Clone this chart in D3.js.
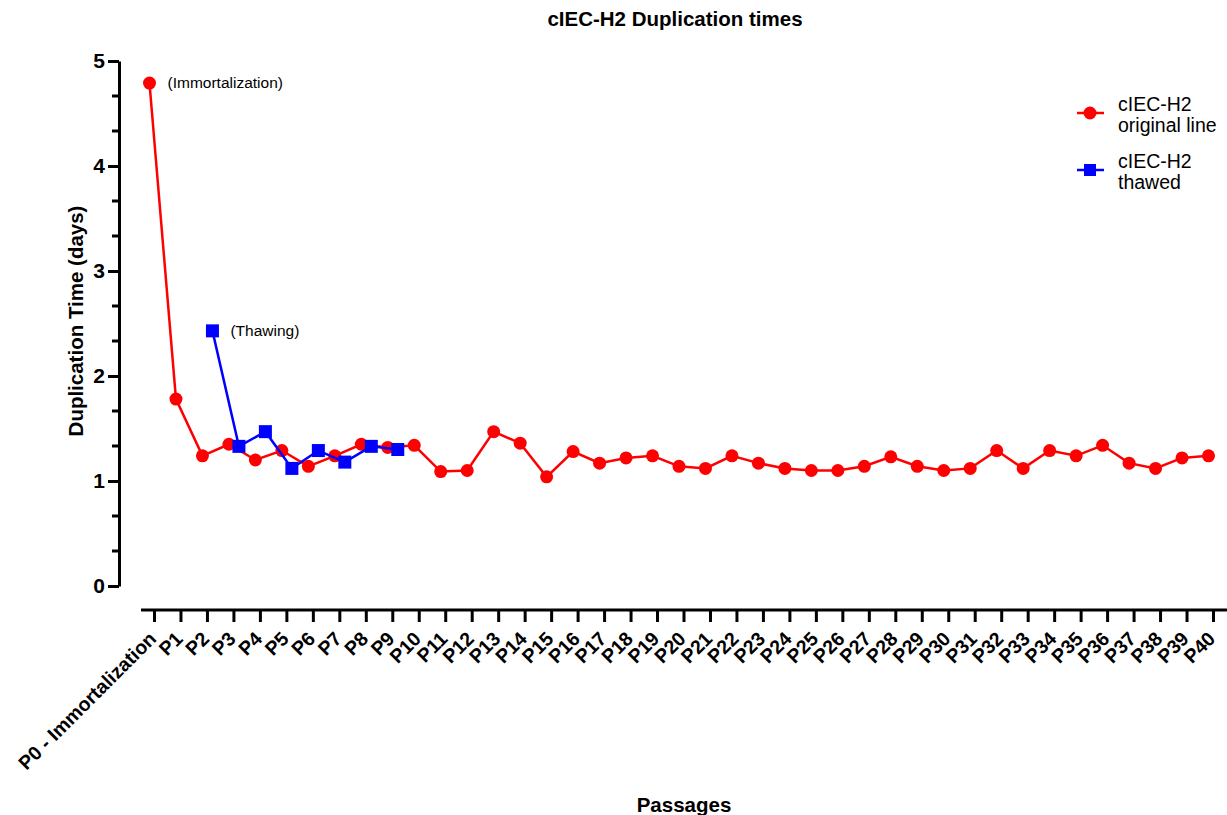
<!DOCTYPE html>
<html>
<head>
<meta charset="utf-8">
<script src="https://cdn.jsdelivr.net/npm/d3@7"></script>
<style>
  html, body { margin: 0; padding: 0; background: #fff; }
  svg { display: block; font-family: "Liberation Sans", Arial, sans-serif; }
</style>
</head>
<body>
<svg id="chart" width="1227" height="815"></svg>
<script>
// Passages on the x axis
const passages = ["P0 - Immortalization"].concat(d3.range(1, 41).map(i => "P" + i));

// Duplication time (days) of the original line, P0..P40
const originalLine = [4.79, 1.78, 1.24, 1.35, 1.20, 1.29, 1.14, 1.24, 1.35, 1.32,
  1.34, 1.09, 1.10, 1.47, 1.36, 1.04, 1.28, 1.17, 1.22, 1.24,
  1.14, 1.12, 1.24, 1.17, 1.12, 1.10, 1.10, 1.14, 1.23, 1.14,
  1.10, 1.12, 1.29, 1.12, 1.29, 1.24, 1.34, 1.17, 1.12, 1.22, 1.24];

// Thawed line, measured from P2 to P9
const thawedPassages = ["P2", "P3", "P4", "P5", "P6", "P7", "P8", "P9"];
const thawedLine = [2.43, 1.33, 1.47, 1.12, 1.29, 1.18, 1.33, 1.30];

const yMajorTicks = [0, 1, 2, 3, 4, 5];

const seriesNames = [["cIEC-H2", "original line"], ["cIEC-H2", "thawed"]];
const RED = "#ff0000", BLUE = "#0000ff";

const svg = d3.select("#chart");
const W = 1227;

const x = d3.scalePoint().domain(passages).range([154, 1213]);
const y = d3.scaleLinear().domain([0, 5]).range([586, 61]);
const redShift = -4.5, blueShift = 5.5;

// Title
svg.append("text").attr("x", 675).attr("y", 26).attr("text-anchor", "middle")
  .style("font-weight", "bold").style("font-size", "20.5px").text("cIEC-H2 Duplication times");

// Y axis
const yAxis = svg.append("g").attr("transform", "translate(119,0)")
  .call(d3.axisLeft(y).tickValues(yMajorTicks).tickSize(11).tickSizeOuter(0).tickPadding(3).tickFormat(d3.format("d")));
yAxis.select(".domain").attr("stroke-width", 3);
yAxis.selectAll(".tick line").attr("stroke-width", 3);
yAxis.selectAll(".tick text").style("font-size", "21px").style("font-weight", "bold").attr("fill", "#000");

// Minor y ticks at thirds
const minor = d3.range(0, 15).filter(i => i % 3 !== 0).map(i => i / 3);
svg.append("g").selectAll("line").data(minor).join("line")
  .attr("x1", 112).attr("x2", 119)
  .attr("y1", d => y(d)).attr("y2", d => y(d))
  .attr("stroke", "#000").attr("stroke-width", 3);

// X axis
const xAxisG = svg.append("g").attr("transform", "translate(0,610)")
  .call(d3.axisBottom(x).tickSize(12).tickSizeOuter(0));
xAxisG.select(".domain").remove();
xAxisG.append("line").attr("x1", 141).attr("x2", W).attr("y1", 0).attr("y2", 0)
  .attr("stroke", "#000").attr("stroke-width", 3);
xAxisG.selectAll(".tick line").attr("stroke-width", 3);
xAxisG.selectAll(".tick text")
  .attr("x", 0).attr("y", 0).attr("dy", 0)
  .attr("transform", "translate(3,30) rotate(-45)")
  .style("text-anchor", "end").style("font-size", "19.5px").style("font-weight", "bold").attr("fill", "#000");

// Axis titles
svg.append("text").attr("transform", "translate(83,321) rotate(-90)").attr("text-anchor", "middle")
  .style("font-weight", "bold").style("font-size", "20.5px").text("Duplication Time (days)");
svg.append("text").attr("x", 684).attr("y", 812).attr("text-anchor", "middle")
  .style("font-weight", "bold").style("font-size", "20.5px").text("Passages");

// Original line
const redData = passages.map((p, i) => ({ p, v: originalLine[i] }));
const line = shift => d3.line().x(d => x(d.p) + shift).y(d => y(d.v));
svg.append("path").datum(redData).attr("d", line(redShift))
  .attr("fill", "none").attr("stroke", RED).attr("stroke-width", 2.5);
svg.append("g").selectAll("circle").data(redData).join("circle")
  .attr("cx", d => x(d.p) + redShift).attr("cy", d => y(d.v)).attr("r", 6.5).attr("fill", RED);

// Thawed line
const blueData = thawedPassages.map((p, i) => ({ p, v: thawedLine[i] }));
svg.append("path").datum(blueData).attr("d", line(blueShift))
  .attr("fill", "none").attr("stroke", BLUE).attr("stroke-width", 2.5);
svg.append("g").selectAll("rect").data(blueData).join("rect")
  .attr("x", d => x(d.p) + blueShift - 6.5).attr("y", d => y(d.v) - 6.5)
  .attr("width", 13).attr("height", 13).attr("fill", BLUE);

// Point annotations
svg.append("text").attr("x", x(passages[0]) + redShift + 18).attr("y", y(originalLine[0]) + 5)
  .style("font-size", "15.5px").text("(Immortalization)");
svg.append("text").attr("x", x(thawedPassages[0]) + blueShift + 18).attr("y", y(thawedLine[0]) + 5)
  .style("font-size", "15.5px").text("(Thawing)");

// Legend
const legend = svg.append("g");
const legendRows = [{ c: RED, shape: "circle", y: 113 }, { c: BLUE, shape: "square", y: 170 }];
legendRows.forEach((r, i) => {
  const g = legend.append("g");
  g.append("line").attr("x1", 1077).attr("x2", 1104).attr("y1", r.y).attr("y2", r.y)
    .attr("stroke", r.c).attr("stroke-width", 2.5);
  if (r.shape === "circle") g.append("circle").attr("cx", 1090).attr("cy", r.y).attr("r", 6.5).attr("fill", r.c);
  else g.append("rect").attr("x", 1084).attr("y", r.y - 6).attr("width", 12).attr("height", 12).attr("fill", r.c);
  const t = g.append("text").attr("x", 1118).attr("y", r.y - 2).style("font-size", "19.5px");
  t.append("tspan").attr("x", 1118).attr("dy", 0).text(seriesNames[i][0]);
  t.append("tspan").attr("x", 1118).attr("dy", 21).text(seriesNames[i][1]);
});
</script>
</body>
</html>
